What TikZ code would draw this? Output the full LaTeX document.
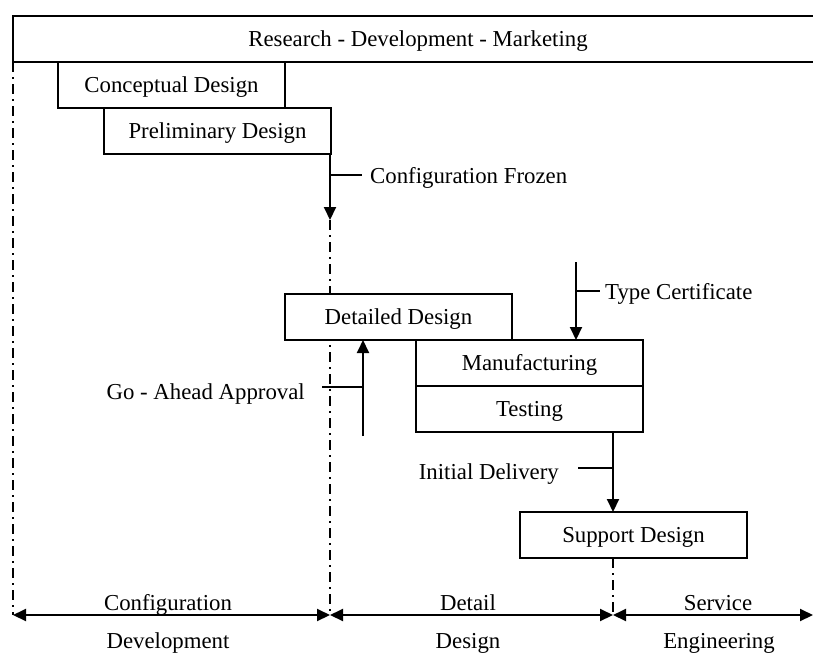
\documentclass[tikz,border=0pt]{standalone}
\usepackage{fontspec}
\setmainfont{Liberation Serif}
\usetikzlibrary{arrows.meta}
\begin{document}
\begin{tikzpicture}[x=1pt,y=-1pt,
  box/.style={draw, fill=white, line width=1.5pt, minimum width=227pt, minimum height=46pt, inner sep=0pt, outer sep=0pt, anchor=north west, text height=19pt, text depth=4pt, font=\fontsize{22.8}{27}\selectfont},
  lbl/.style={inner sep=0pt, text height=19pt, text depth=4pt, font=\fontsize{22.8}{27}\selectfont},
  flow/.style={line width=2pt, -{Triangle[length=13pt,width=12pt]}},
  axis/.style={line width=2pt, {Triangle[length=13pt,width=12pt]}-{Triangle[length=13pt,width=12pt]}},
  tick/.style={line width=1.6pt},
  dashdot/.style={line width=1.6pt, dash pattern=on 10pt off 5pt on 2pt off 5pt}
]
\useasboundingbox (0,0) rectangle (813,653);
% coordinates
\coordinate (cf) at (330,220);
\coordinate (tc0) at (576,262);
\coordinate (ga0) at (363,436);
\coordinate (id0) at (613,432);
\coordinate (a0) at (13,615);
\coordinate (a1) at (330,615);
\coordinate (a2) at (613,615);
\coordinate (a3) at (813,615);
% dash-dot lines (drawn first, boxes cover them)
\draw[dashdot] (13,62) -- (a0);
\draw[dashdot] (cf) -- (a1);
\draw[dashdot] (613,558) -- (a2);
% top bar
\draw[line width=1.6pt] (813,16) -| (13,62) -- (813,62);
\node[lbl] (rdm) at (418,39) {Research - Development - Marketing};
% boxes
\node[box] (cd) at (58,62) {Conceptual Design};
\node[box] (pd) at (104,108) {Preliminary Design};
\node[box] (det) at (285,294) {Detailed Design};
\node[box] (mf) at (416,340) {Manufacturing};
\node[box] (ts) at (416,386) {Testing};
\node[box] (sd) at (520,512) {Support Design};
% Configuration Frozen
\draw[flow] (cf |- pd.south) -- (cf);
\draw[tick] (330,175) -- (362,175);
\node[lbl, anchor=west] (cfl) at (370,175.8) {Configuration Frozen};
% Type Certificate
\draw[flow] (tc0) -- (tc0 |- mf.north);
\draw[tick] (576,291) -- (600,291);
\node[lbl, anchor=west] (tcl) at (605,291.8) {Type Certificate};
% Go-Ahead
\draw[flow] (ga0) -- (ga0 |- det.south);
\draw[tick] (322,387) -- (363,387);
\node[lbl, anchor=east] (gal) at (305,391.5) {Go - Ahead Approval};
% Initial delivery
\draw[flow] (id0) -- (id0 |- sd.north);
\draw[tick] (578,468) -- (613,468);
\node[lbl, anchor=east] (idl) at (559,471.5) {Initial Delivery};
% axis
\draw[axis] (a0) -- (a1);
\draw[axis] (a1) -- (a2);
\draw[axis] (a2) -- (a3);
\node[lbl] (l1) at (168,602.5) {Configuration};
\node[lbl] (l2) at (168,641) {Development};
\node[lbl] (l3) at (468,602.5) {Detail};
\node[lbl] (l4) at (468,641) {Design};
\node[lbl] (l5) at (718,602.5) {Service};
\node[lbl] (l6) at (719,641) {Engineering};
\end{tikzpicture}
\end{document}
